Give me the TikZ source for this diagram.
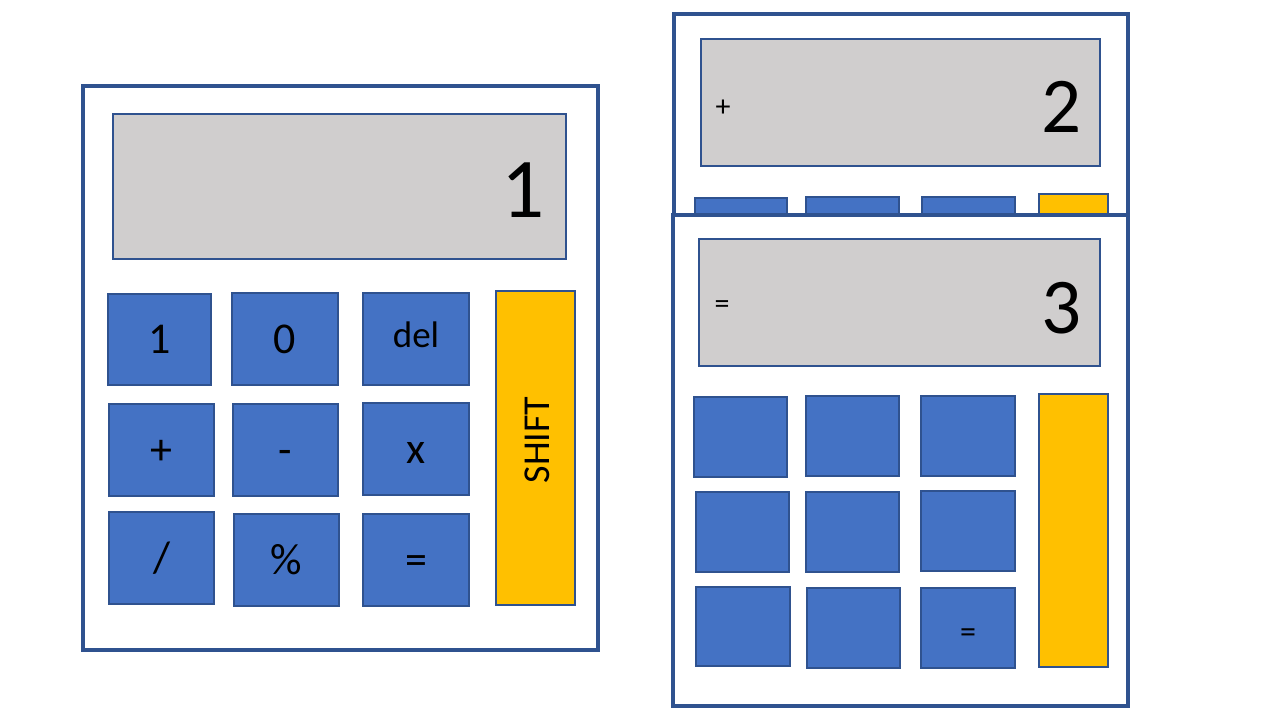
\documentclass[tikz,border=0pt]{standalone}
\usepackage{fontspec}
\setmainfont{Carlito}
\definecolor{keyblue}{HTML}{4472C4}
\definecolor{edgeblue}{HTML}{2F528F}
\definecolor{screengray}{HTML}{D0CECE}
\definecolor{shiftgold}{HTML}{FFC000}
\tikzset{
  casing/.style={draw=edgeblue, line width=3.5pt, fill=white},
  screen/.style={draw=edgeblue, line width=1.2pt, fill=screengray, inner sep=0pt},
  key/.style={draw=edgeblue, line width=1.2pt, fill=keyblue, inner sep=0pt, text height=28pt, text depth=0pt, font=\fontsize{44}{46}\selectfont},
  shiftkey/.style={key, fill=shiftgold, font=\fontsize{38}{40}\selectfont},
  bigdigit/.style={anchor=east, inner sep=0pt, font=\fontsize{#1}{#1}\selectfont},
  small/.style={inner sep=0pt, font=\fontsize{30}{32}\selectfont}
}
\begin{document}
\begin{tikzpicture}[x=1pt,y=-1pt]
            \useasboundingbox (0,0) rectangle (1280,720);

            % first calculator
            \draw[casing] (83,86) rectangle (598,650);
            \node[screen, minimum width=453pt, minimum height=145pt] (scrA) at (339.5,186.5) {};
            \node[bigdigit=85] (resA) at (545,190) {1};

            \node[key, minimum width=103pt, minimum height=91pt] (one)   at (159.5,339.5) {1};
            \node[key, minimum width=106pt, minimum height=92pt] (zero)  at (285,339)     {0};
            \node[key, minimum width=106pt, minimum height=92pt, text depth=12pt, font=\fontsize{37}{40}\selectfont] (del) at (416,339) {del};
            \node[key, minimum width=105pt, minimum height=92pt] (plus)  at (161.5,450)   {+};
            \node[key, minimum width=105pt, minimum height=92pt] (minus) at (285.5,450)   {-};
            \node[key, minimum width=106pt, minimum height=92pt] (times) at (416,449)     {x};
            \node[key, minimum width=105pt, minimum height=92pt] (slash) at (161.5,558)   {/};
            \node[key, minimum width=105pt, minimum height=92pt] (pct)   at (286.5,560)   {\%};
            \node[key, minimum width=106pt, minimum height=92pt] (equal) at (416,560)     {=};
            \node[shiftkey, rotate=90, minimum width=314pt, minimum height=79pt] (shift) at (535.5,448) {\hspace*{16pt}SHIFT};

            % second calculator, partly hidden
            \draw[casing] (674,14) rectangle (1128,400);
            \node[screen, minimum width=399pt, minimum height=127pt] (scrB) at (900.5,102.5) {};
            \node[small] (opB) at (723,108) {+};
            \node[bigdigit=79] (resB) at (1082,107) {2};
            \node[key, minimum width=92pt, minimum height=80pt] (peekA) at (741,238) {};
            \node[key, minimum width=93pt, minimum height=80pt] (peekB) at (852.5,237) {};
            \node[key, minimum width=93pt, minimum height=80pt] (peekC) at (968.5,237) {};
            \node[shiftkey, minimum width=69pt, minimum height=80pt] (peekD) at (1073.5,234) {};

            % third calculator on top
            \draw[casing] (673,215) rectangle (1128,706);
            \node[screen, minimum width=401pt, minimum height=127pt] (scrC) at (899.5,302.5) {};
            \node[small] (opC) at (722,307) {=};
            \node[bigdigit=79] (resC) at (1082,308) {3};
            \node[key, minimum width=93pt, minimum height=80pt] (keyA) at (740.5,437) {};
            \node[key, minimum width=93pt, minimum height=80pt] (keyB) at (852.5,436) {};
            \node[key, minimum width=94pt, minimum height=80pt] (keyC) at (968,436)   {};
            \node[key, minimum width=93pt, minimum height=80pt] (keyD) at (742.5,532) {};
            \node[key, minimum width=93pt, minimum height=80pt] (keyE) at (852.5,532) {};
            \node[key, minimum width=94pt, minimum height=80pt] (keyF) at (968,531)   {};
            \node[key, minimum width=94pt, minimum height=79pt] (keyG) at (743,626.5) {};
            \node[key, minimum width=93pt, minimum height=80pt] (keyH) at (853.5,628) {};
            \node[key, minimum width=94pt, minimum height=80pt, font=\fontsize{32}{34}\selectfont] (keyI) at (968,628) {=};
            \node[shiftkey, minimum width=69pt, minimum height=273pt] (shiftC) at (1073.5,530.5) {};
        \end{tikzpicture}
\end{document}
